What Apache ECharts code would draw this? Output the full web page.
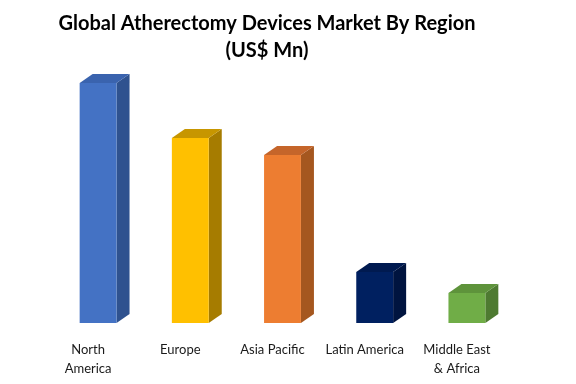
<!DOCTYPE html>
<html>
<head>
<meta charset="utf-8">
<script src="https://cdn.jsdelivr.net/npm/echarts@6/dist/echarts.min.js"></script>
<style>html,body{margin:0;padding:0;background:#fff}#c{width:576px;height:384px}</style>
</head>
<body>
<div id="c"></div>
<script>
var categories = ['North\nAmerica', 'Europe', 'Asia Pacific', 'Latin America', 'Middle East\n& Africa'];
var values = [240, 185, 168, 51, 30];
var frontColors = ['#4472C4', '#FFC000', '#ED7D31', '#002060', '#70AD47'];
var sideColors = ['#2F528F', '#A67C00', '#A5571F', '#00143F', '#4E7A31'];
var topColors = ['#3A63AE', '#C79600', '#C5652A', '#001A50', '#5E933B'];

var chart = echarts.init(document.getElementById('c'), null, {renderer: 'canvas'});
var DX = 13, DY = 9, OFF = 10;

chart.setOption({
  animation: false,
  backgroundColor: '#ffffff',
  title: {
    text: 'Global Atherectomy Devices Market By Region\n(US$ Mn)',
    left: 262,
    textAlign: 'center',
    top: 5,
    textStyle: {fontFamily: 'Lato', fontWeight: 'bold', fontSize: 20, lineHeight: 27, color: '#000'}
  },
  grid: {left: 42, right: 73, top: 63, bottom: 61},
  xAxis: {
    type: 'category',
    data: categories,
    axisLine: {show: false},
    axisTick: {show: false},
    axisLabel: {margin: 17, fontFamily: 'Lato', fontSize: 13, lineHeight: 19, color: '#1a1a1a', interval: 0}
  },
  yAxis: {type: 'value', min: 0, max: 260, show: false, splitLine: {show: false}},
  series: [{
    type: 'custom',
    data: values.map(function (v, i) { return [i, v]; }),
    encode: {x: 0, y: 1},
    renderItem: function (params, api) {
      var i = api.value(0);
      var topP = api.coord([i, api.value(1)]);
      var baseP = api.coord([i, 0]);
      var w = api.size([1, 0])[0] * 0.4;
      var cx = topP[0] + OFF;
      var l = cx - w / 2, r = cx + w / 2, t = topP[1], b = baseP[1];
      return {
        type: 'group',
        children: [
          {type: 'polygon', shape: {points: [[r, t], [r + DX, t - DY], [r + DX, b - DY], [r, b]]}, style: {fill: sideColors[i]}},
          {type: 'polygon', shape: {points: [[l, t], [l + DX, t - DY], [r + DX, t - DY], [r, t]]}, style: {fill: topColors[i]}},
          {type: 'rect', shape: {x: l, y: t, width: w, height: b - t}, style: {fill: frontColors[i]}}
        ]
      };
    }
  }]
});
</script>
</body>
</html>
